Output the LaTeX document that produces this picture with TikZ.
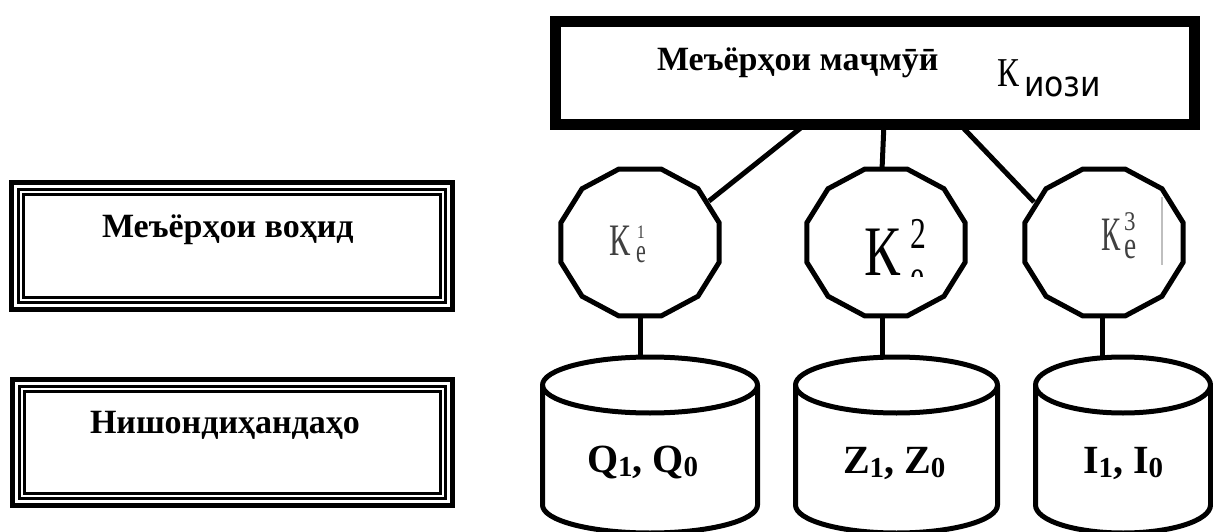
\documentclass[tikz,border=0pt]{standalone}
\usepackage{fontspec}
\setmainfont{Liberation Serif}
\newfontfamily\sansf{DejaVu Sans}
\usetikzlibrary{calc}
\newcommand\dsub[1]{\raisebox{-4pt}{\fontsize{29}{29}\selectfont #1}}
\newcommand\sq[3]{\scalebox{#1}[1]{\fontsize{#2}{#2}\selectfont #3}}
\begin{document}
\begin{tikzpicture}[x=1pt,y=-1pt,
  conn/.style={line width=5pt},
  oct/.style={line width=5pt, line join=miter},
  cyl/.style={line width=5pt, line join=round},
  lbl/.style={anchor=base west, inner sep=0pt, outer sep=0pt},
  btxt/.style={lbl, font=\fontsize{34}{34}\selectfont\bfseries},
  ctxt/.style={lbl, font=\fontsize{40}{40}\selectfont\bfseries},
  ktxt/.style={lbl, text=black!75},
]
\useasboundingbox (0,0) rectangle (1213,532);
\clip (0,0) rectangle (1213,532);

% left boxes (triple border)
\foreach \xa/\ya/\xb/\yb in {9/180/455/312, 10/377/455/508}{
  \draw[line width=5pt] (\xa+2.5,\ya+2.5) rectangle (\xb-2.5,\yb-2.5);
  \draw[line width=3.5pt] (\xa+9.5,\ya+9.5) rectangle (\xb-9.5,\yb-9.5);
  \draw[line width=2.5pt] (\xa+14.5,\ya+14.5) rectangle (\xb-14.5,\yb-14.5);
}
\node[btxt] (b1t) at (102,237) {Меъёрҳои воҳид};
\node[btxt] (b2t) at (90,433) {Нишондиҳандаҳо};

% top box
\node[draw, line width=11pt, minimum width=639pt, minimum height=103pt,
      inner sep=0pt, outer sep=0pt] (top) at (875,73) {};
\node[btxt] (tt) at (657,71) {Меъёрҳои маҷмӯӣ};
\node[lbl] (tk) at (997,87) {\sq{0.8}{41}{К}};
\node[lbl] (ts) at (1024,97) {\sansf\sq{0.9}{35}{иози}};

% connectors top -> criteria
\coordinate (t1) at ($(top.south west)!0.3905!(top.south east)$);
\coordinate (t2) at ($(top.south west)!0.514!(top.south east)$);
\coordinate (t3) at ($(top.south west)!0.633!(top.south east)$);
\coordinate (k1e) at (709,201);
\coordinate (k2n) at (882,170);
\coordinate (k3e) at (1034,202);
\draw[conn] (t1) -- (k1e);
\draw[conn] (t2) -- (k2n);
\draw[conn] (t3) -- (k3e);

% dodecagons
\foreach \x in {640,886,1104}{
  \draw[oct] plot[samples at={15,45,...,345}, variable=\a]
     ({\x+82*cos(\a)},{242.5+76*sin(\a)}) -- cycle;
}

% labels in dodecagons
\node[ktxt] (k1k) at (609,255) {\sq{0.7}{45}{К}};
\node[ktxt] (k1p) at (637,238) {\sq{0.8}{19}{1}};
\node[ktxt] (k1b) at (636,262) {\sq{0.65}{34}{e}};
\begin{scope}
  \clip (840,200) rectangle (927,276);
  \node[lbl] (k2k) at (864,275) {\sq{0.76}{71}{К}};
  \node[lbl] (k2p) at (910,248) {\sq{0.72}{44}{2}};
  \node[lbl] (k2b) at (910,290) {\sq{0.72}{44}{e}};
\end{scope}
\node[ktxt] (k3k) at (1101,250) {\sq{0.6}{48}{К}};
\node[ktxt] (k3p) at (1124,230) {\sq{0.85}{27}{3}};
\node[ktxt] (k3b) at (1124,258) {\sq{0.7}{39}{e}};
\draw[black!25, line width=1.5pt] (1162,197) -- (1162,265);

% connectors criteria -> cylinders
\coordinate (k1s) at (640,316);  \coordinate (qn) at (640,358);
\coordinate (k2s) at (882,316);  \coordinate (zn) at (882,358);
\coordinate (k3s) at (1102,316); \coordinate (in) at (1102,358);
\draw[conn] (k1s) -- (qn);
\draw[conn] (k2s) -- (zn);
\draw[conn] (k3s) -- (in);

% cylinders
\foreach \cx/\ra in {650/107.5, 896.5/101, 1123/87.5}{
  \draw[cyl] (\cx,385) ellipse[x radius=\ra pt, y radius=28pt];
  \draw[cyl] (\cx-\ra,385) -- (\cx-\ra,505)
     arc[start angle=180, end angle=360, x radius=\ra pt, y radius=28pt]
     -- (\cx+\ra,385);
}
\node[ctxt] (qt) at (587,472) {Q\dsub{1}, Q\dsub{0}};
\node[ctxt] (zt) at (843,473) {Z\dsub{1}, Z\dsub{0}};
\node[ctxt] (it) at (1083,473) {I\dsub{1}, I\dsub{0}};
\end{tikzpicture}
\end{document}
